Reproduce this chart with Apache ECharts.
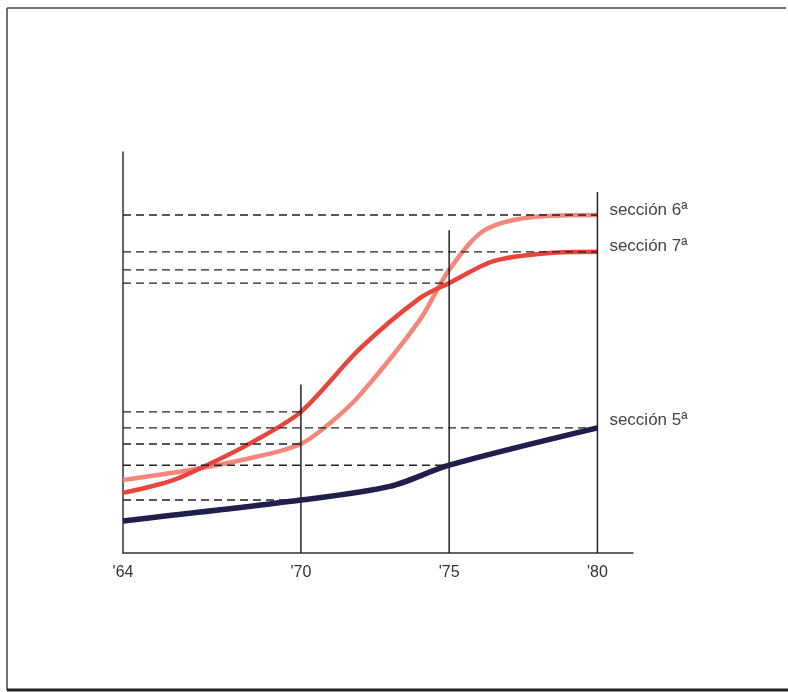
<!DOCTYPE html>
<html>
<head>
<meta charset="utf-8">
<script src="https://cdn.jsdelivr.net/npm/echarts@6/dist/echarts.min.js"></script>
<style>
html,body{margin:0;padding:0;background:#fff;}
#c{width:788px;height:692px;}
</style>
</head>
<body>
<div id="c"></div>
<script>
// x: year (19xx), y: relative index (no scale printed)
const tickYears = [64, 70, 75, 80];
const tickLabels = ["'64", "'70", "'75", "'80"];
const guideYears = [70, 75, 80];
const guideTops = [42, 80.5, 90];

const seccion6 = [[64,18.2],[66.5,21.0],[68.5,24.0],[70,27.2],[71,32.5],[72,39.5],[74,58.0],[75,70.6],[76.2,80.5],[78,83.9],[80,84.3]];
const seccion7 = [[64,15.0],[65.7,18.2],[67,22.5],[68.3,27.4],[70,35.2],[72,51.0],[74,63.5],[75,67.3],[76.5,72.8],[78.4,74.8],[80,75.1]];
const seccion5 = [[64,8.0],[70,13.2],[73,16.6],[75,21.9],[80,31.2]];

const seriesNames = ['sección 6ª', 'sección 7ª', 'sección 5ª'];

const font = 'Liberation Sans, Arial, Helvetica, sans-serif';

function valueAt(data, yr) {
  const p = data.find(d => d[0] === yr);
  return p ? p[1] : null;
}

const refSeries = [];
[seccion6, seccion7, seccion5].forEach(data => {
  guideYears.forEach(yr => {
    const v = valueAt(data, yr);
    refSeries.push({
      type: 'line', data: [[tickYears[0], v], [yr, v]],
      symbol: 'none', silent: true, z: 5,
      lineStyle: { color: '#222', width: 1.4, type: [8, 5] }
    });
  });
});

const vertSeries = guideYears.map((yr, i) => ({
  type: 'line', data: [[yr, 0], [yr, guideTops[i]]],
  symbol: 'none', silent: true, z: 4,
  lineStyle: { color: '#222', width: 1.5 }
}));

const chart = echarts.init(document.getElementById('c'));
chart.setOption({
  animation: false,
  backgroundColor: '#fff',
  grid: { left: 123, right: 155, top: 152, bottom: 139 },
  xAxis: {
    type: 'value', min: 64, max: 81.2,
    axisLine: { show: true, lineStyle: { color: '#333', width: 1.5 } },
    axisTick: { show: false },
    splitLine: { show: false },
    axisLabel: {
      customValues: tickYears,
      formatter: v => tickLabels[tickYears.indexOf(v)] || '',
      color: '#333', fontSize: 16, fontFamily: font, margin: 12
    }
  },
  yAxis: {
    type: 'value', min: 0, max: 100,
    axisLine: { show: true, lineStyle: { color: '#333', width: 1.5 } },
    axisTick: { show: false },
    axisLabel: { show: false },
    splitLine: { show: false }
  },
  graphic: [
    { type: 'line', shape: { x1: 7, y1: 8, x2: 786, y2: 8 }, style: { stroke: '#444', lineWidth: 1.5 } },
    { type: 'line', shape: { x1: 7, y1: 8, x2: 7, y2: 690 }, style: { stroke: '#444', lineWidth: 1.5 } },
    { type: 'line', shape: { x1: 7, y1: 690, x2: 788, y2: 690 }, style: { stroke: '#222', lineWidth: 3 } }
  ],
  series: [
    ...vertSeries,
    {
      name: seriesNames[0], type: 'line', data: seccion6, symbol: 'none',
      smooth: 0.3, z: 3,
      lineStyle: { color: '#f4877a', width: 4.5 },
      endLabel: { show: true, formatter: seriesNames[0], offset: [4, -5], color: '#444', fontSize: 17, fontFamily: font }
    },
    {
      name: seriesNames[1], type: 'line', data: seccion7, symbol: 'none',
      smooth: 0.3, z: 3,
      lineStyle: { color: '#e8453c', width: 4.5 },
      endLabel: { show: true, formatter: seriesNames[1], offset: [4, -6], color: '#444', fontSize: 17, fontFamily: font }
    },
    {
      name: seriesNames[2], type: 'line', data: seccion5, symbol: 'none',
      smooth: 0.3, z: 6,
      lineStyle: { color: '#1e1f4b', width: 5.5 },
      endLabel: { show: true, formatter: seriesNames[2], offset: [4, -8], color: '#444', fontSize: 17, fontFamily: font }
    },
    ...refSeries
  ]
});
</script>
</body>
</html>
